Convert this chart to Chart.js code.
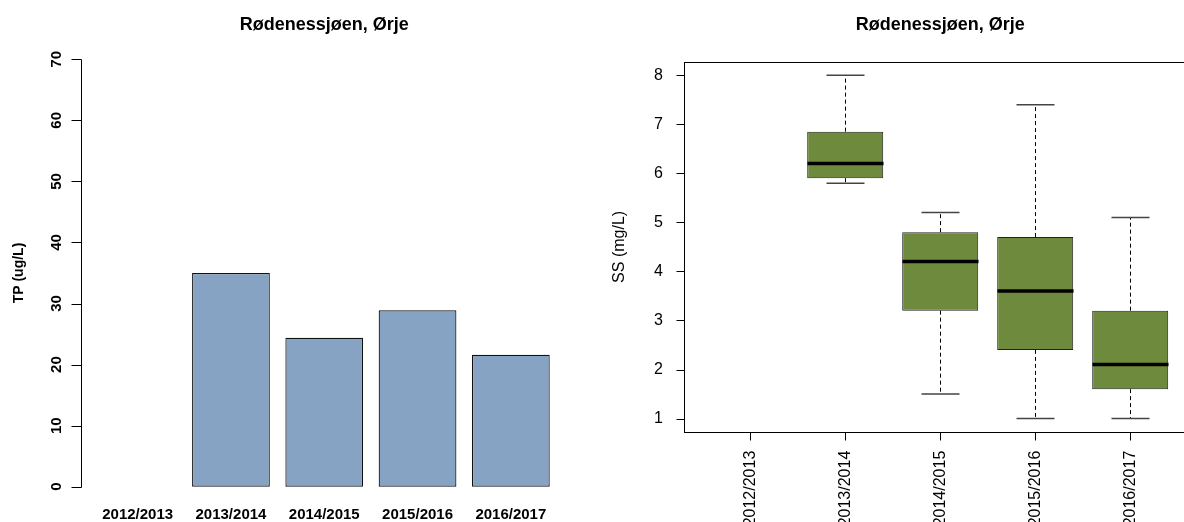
<!DOCTYPE html>
<html>
<head>
<meta charset="utf-8">
<script src="https://cdn.jsdelivr.net/npm/chart.js@4.4.1/dist/chart.umd.min.js"></script>
<style>
  html, body { margin: 0; padding: 0; background: #fff; overflow: hidden; }
  canvas { position: absolute; top: 0; }
  #tpChart { left: 0; }
  #ssChart { left: 592px; }
</style>
</head>
<body>
<canvas id="tpChart" width="592" height="522"></canvas>
<canvas id="ssChart" width="592" height="522"></canvas>
<script>
const seasons = ['2012/2013', '2013/2014', '2014/2015', '2015/2016', '2016/2017'];

// left panel: TP per season
const tpValues = [null, 35.0, 24.4, 28.9, 21.6];
const tpTicks = [0, 10, 20, 30, 40, 50, 60, 70];

// right panel: SS box plot stats
const ssMin = [null, 5.8, 1.5, 1.0, 1.0];
const ssQ1 = [null, 5.9, 3.2, 2.4, 1.6];
const ssMedian = [null, 6.2, 4.2, 3.6, 2.1];
const ssQ3 = [null, 6.85, 4.8, 4.7, 3.2];
const ssMax = [null, 8.0, 5.2, 7.4, 5.1];
const ssTicks = [1, 2, 3, 4, 5, 6, 7, 8];

const title = 'Rødenessjøen, Ørje';

Chart.defaults.font.family = "'Liberation Sans', Arial, sans-serif";
Chart.defaults.color = '#000';
Chart.defaults.animation = false;

// fixed axis sizes, no extra label padding pushed into the layout
const fixWidth = w => s => { s.width = w; s.paddingTop = 0; s.paddingBottom = 0; };
const fixHeight = h => s => { s.height = h; s.paddingLeft = 0; s.paddingRight = 0; };

// R style y axis: line only over the tick range, a bit left of the first bar
const rAxis = {
  id: 'rAxis',
  afterDraw(chart) {
    const {ctx, scales: {x, y}} = chart;
    const step = x.getPixelForValue(1) - x.getPixelForValue(0);
    const ax = Math.round(x.getPixelForValue(0) - 0.61 * step) + 0.5;
    ctx.save();
    ctx.strokeStyle = '#000';
    ctx.lineWidth = 1;
    ctx.beginPath();
    ctx.moveTo(ax, Math.round(y.getPixelForValue(tpTicks[0])) + 0.5);
    ctx.lineTo(ax, Math.round(y.getPixelForValue(tpTicks[tpTicks.length - 1])) + 0.5);
    tpTicks.forEach(v => {
      const py = Math.round(y.getPixelForValue(v)) + 0.5;
      ctx.moveTo(ax - 10, py);
      ctx.lineTo(ax, py);
    });
    ctx.stroke();
    ctx.restore();
  }
};

// whiskers, medians, frame and tick marks for the box plot
const rBox = {
  id: 'rBox',
  afterDatasetsDraw(chart) {
    const {ctx, chartArea: a, scales: {x, y}} = chart;
    const step = x.getPixelForValue(1) - x.getPixelForValue(0);
    ctx.save();
    seasons.forEach((s, i) => {
      if (ssMedian[i] == null) return;
      const cx = Math.round(x.getPixelForValue(i)) + 0.5;
      ctx.strokeStyle = '#000';
      ctx.lineWidth = 1;
      ctx.setLineDash([4, 3]);
      ctx.beginPath();
      ctx.moveTo(cx, y.getPixelForValue(ssQ3[i]));
      ctx.lineTo(cx, y.getPixelForValue(ssMax[i]));
      ctx.moveTo(cx, y.getPixelForValue(ssQ1[i]));
      ctx.lineTo(cx, y.getPixelForValue(ssMin[i]));
      ctx.stroke();
      ctx.setLineDash([]);
      ctx.strokeStyle = '#444';
      ctx.lineWidth = 1.5;
      ctx.beginPath();
      [ssMax[i], ssMin[i]].forEach(v => {
        const py = y.getPixelForValue(v);
        ctx.moveTo(cx - 0.2 * step, py);
        ctx.lineTo(cx + 0.2 * step, py);
      });
      ctx.stroke();
      ctx.strokeStyle = '#000';
      ctx.lineWidth = 3.5;
      ctx.beginPath();
      const my = y.getPixelForValue(ssMedian[i]);
      ctx.moveTo(cx - 0.4 * step, my);
      ctx.lineTo(cx + 0.4 * step, my);
      ctx.stroke();
    });
    const left = Math.round(a.left - 0.2 * step) + 0.5;
    const right = Math.round(a.right + 0.2 * step) + 0.5;
    const top = Math.round(a.top) + 0.5;
    const bottom = Math.round(a.bottom) + 0.5;
    ctx.strokeStyle = '#000';
    ctx.lineWidth = 1;
    ctx.strokeRect(left, top, right - left, bottom - top);
    ctx.beginPath();
    ssTicks.forEach(v => {
      const py = Math.round(y.getPixelForValue(v)) + 0.5;
      ctx.moveTo(left - 8, py);
      ctx.lineTo(left, py);
    });
    seasons.forEach((s, i) => {
      const px = Math.round(x.getPixelForValue(i)) + 0.5;
      ctx.moveTo(px, bottom);
      ctx.lineTo(px, bottom + 8);
    });
    ctx.stroke();
    ctx.restore();
  }
};

new Chart(document.getElementById('tpChart'), {
  type: 'bar',
  data: {
    labels: seasons,
    datasets: [{
      data: tpValues,
      backgroundColor: '#87a3c4',
      borderColor: '#111',
      borderWidth: 1.2,
      borderSkipped: false,
      barPercentage: 1,
      categoryPercentage: 1 / 1.2
    }]
  },
  options: {
    responsive: false,
    layout: { padding: { left: 0, right: 34.5, top: 0, bottom: 0 } },
    plugins: {
      legend: { display: false },
      tooltip: { enabled: false },
      title: {
        display: true, text: title, fullSize: false,
        font: { size: 18, weight: 'bold' },
        padding: { top: 14.2, bottom: 6.4 }
      }
    },
    scales: {
      x: {
        grid: { display: false, drawTicks: false },
        border: { display: false },
        ticks: { font: { size: 15, weight: 'bold' }, padding: 2, maxRotation: 0, autoSkip: false },
        afterFit: fixHeight(18.2)
      },
      y: {
        min: -2.8, max: 72.8,
        afterBuildTicks: s => { s.ticks = tpTicks.map(v => ({ value: v })); },
        grid: { display: false, drawTicks: false },
        border: { display: false },
        ticks: { font: { size: 15, weight: 'bold' }, minRotation: 90, maxRotation: 90, crossAlign: 'center', padding: 26 },
        title: { display: true, text: 'TP (ug/L)', font: { size: 14, weight: 'bold' }, padding: { top: 11, bottom: 0 } },
        afterFit: fixWidth(91)
      }
    }
  },
  plugins: [rAxis]
});

new Chart(document.getElementById('ssChart'), {
  type: 'bar',
  data: {
    labels: seasons,
    datasets: [{
      data: seasons.map((s, i) => ssQ1[i] == null ? null : [ssQ1[i], ssQ3[i]]),
      backgroundColor: '#6e8b3d',
      borderColor: '#222',
      borderWidth: 1,
      borderSkipped: false,
      barPercentage: 0.8,
      categoryPercentage: 1
    }]
  },
  options: {
    responsive: false,
    layout: { padding: { left: 0, right: 6.3, top: 0, bottom: 0 } },
    plugins: {
      legend: { display: false },
      tooltip: { enabled: false },
      title: {
        display: true, text: title, fullSize: false,
        font: { size: 18, weight: 'bold' },
        padding: { top: 14.2, bottom: 25.7 }
      }
    },
    scales: {
      x: {
        grid: { display: false, drawTicks: false },
        border: { display: false },
        ticks: { font: { size: 16 }, minRotation: 90, maxRotation: 90, padding: 18.4, autoSkip: false },
        afterFit: fixHeight(89.7)
      },
      y: {
        min: 0.72, max: 8.28,
        afterBuildTicks: s => { s.ticks = ssTicks.map(v => ({ value: v })); },
        grid: { display: false, drawTicks: false },
        border: { display: false },
        ticks: { font: { size: 16 }, padding: 39.7 },
        title: { display: true, text: 'SS (mg/L)', font: { size: 16 }, padding: { top: 18.4, bottom: 0 } },
        afterFit: fixWidth(110.7)
      }
    }
  },
  plugins: [rBox]
});
</script>
</body>
</html>
